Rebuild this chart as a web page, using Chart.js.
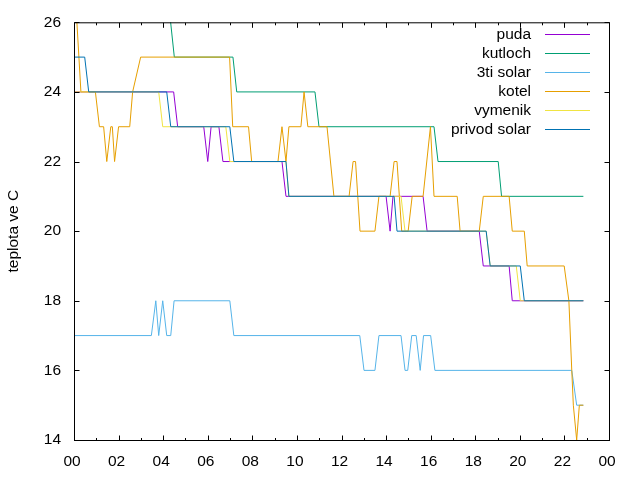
<!DOCTYPE html>
<html>
<head>
<meta charset="utf-8">
<script src="https://cdn.jsdelivr.net/npm/chart.js@4/dist/chart.umd.min.js"></script>
<style>
  html, body { margin: 0; padding: 0; background: #fff; }
  #c { display: block; }
</style>
</head>
<body>
<canvas id="c" width="640" height="480"></canvas>
<script>
// ---- data (time in hours, temperature in °C) ----
const seriesNames = ["puda", "kutloch", "3ti solar", "kotel", "vymenik", "privod solar"];
const seriesColors = ["#9400d3", "#009e73", "#56b4e9", "#e69f00", "#f0e442", "#0072b2"];

const puda = [[0,24],[4.47,24],[4.65,23],[5.82,23],[6.0,22],[6.15,23],[6.5,23],[6.68,22],[9.33,22],[9.51,21],
  [14.0,21],[14.18,20],[14.31,21],[15.66,21],[15.84,20],[18.18,20],[18.36,19],[19.52,19],[19.66,18],[22.85,18]];

const kutloch = [[0,27],[4.17,27],[4.5,25],[7.13,25],[7.3,24],[10.81,24],[10.99,23],[16.15,23],[16.33,22],
  [19.03,22],[19.18,21],[22.85,21]];

const solar3 = [[0,17],[3.47,17],[3.67,18],[3.8,17],[3.98,18],[4.16,17],[4.34,17],[4.49,18],[6.99,18],[7.17,17],
  [12.82,17],[13.01,16],[13.5,16],[13.68,17],[14.67,17],[14.85,16],[14.97,16],[15.15,17],[15.35,17],[15.53,16],
  [15.68,17],[16.0,17],[16.19,16],[22.33,16],[22.55,15],[22.85,15]];

const kotel = [[0.02,26],[0.13,26],[0.31,24],[0.96,24],[1.14,23],[1.33,23],[1.47,22],[1.65,23],[1.72,23],[1.82,22],
  [2.0,23],[2.5,23],[2.63,24],[2.99,25],[6.98,25],[7.12,23],[7.83,23],[7.97,22],[9.15,22],[9.33,23],[9.51,22],
  [9.64,23],[10.18,23],[10.32,24],[10.49,23],[11.35,23],[11.66,21],[12.34,21],[12.52,22],[12.63,22],[12.83,20],
  [13.5,20],[13.68,21],[14.18,21],[14.36,22],[14.49,22],[14.7,20],[14.99,20],[15.17,21],[15.66,21],[15.99,23],
  [16.15,21],[17.19,21],[17.32,20],[18.18,20],[18.36,21],[19.52,21],[19.66,20],[20.2,20],[20.33,19],[21.99,19],
  [22.2,18],[22.33,16],[22.4,15],[22.55,14],[22.67,15],[22.85,15]];

const vymenik = [[0,24],[3.8,24],[3.98,23],[6.81,23],[6.99,22],[9.51,22],[9.64,21],[14.67,21],[14.85,20],
  [18.49,20],[18.67,19],[19.84,19],[20.02,18],[22.85,18]];

const privodSolar = [[0,25],[0.48,25],[0.66,24],[4.16,24],[4.34,23],[6.99,23],[7.17,22],[9.51,22],[9.64,21],
  [14.36,21],[14.49,20],[18.49,20],[18.67,19],[20.02,19],[20.2,18],[22.85,18]];

const xTickLabels = ["00","02","04","06","08","10","12","14","16","18","20","22","00"];
const yTickValues = [14,16,18,20,22,24,26];
const yTitle = "teplota ve C";

// ---- chart ----
const FONT = "'Liberation Sans', Arial, sans-serif";
const FS = 15.5;
const allSeries = [puda, kutloch, solar3, kotel, vymenik, privodSolar];

const datasets = allSeries.map((s, i) => ({
  label: seriesNames[i],
  data: s.map(p => ({x: p[0], y: p[1]})),
  borderColor: seriesColors[i],
  backgroundColor: seriesColors[i],
  borderWidth: 1,
  pointRadius: 0,
  tension: 0,
  fill: false,
  order: allSeries.length - 1 - i
}));

const framePlugin = {
  id: 'frame',
  afterDatasetsDraw(chart) {
    const ctx = chart.ctx;
    const a = chart.chartArea;
    const xs = chart.scales.x, ys = chart.scales.y;
    ctx.save();
    ctx.strokeStyle = '#000';
    ctx.lineWidth = 1;
    ctx.strokeRect(a.left + 0.5, a.top + 0.5, a.right - a.left, a.bottom - a.top);
    ctx.beginPath();
    // x ticks (major every 2h, minor every 1h), inward, mirrored on top
    for (let h = xs.min; h <= xs.max; h += 1) {
      const px = Math.round(xs.getPixelForValue(h)) + 0.5;
      const len = (h % 2 === 0) ? 5 : 2.5;
      ctx.moveTo(px, a.bottom + 0.5); ctx.lineTo(px, a.bottom + 0.5 - len);
      ctx.moveTo(px, a.top + 0.5); ctx.lineTo(px, a.top + 0.5 + len);
    }
    // y ticks, inward, mirrored on right
    yTickValues.forEach(v => {
      const py = Math.round(ys.getPixelForValue(v)) + 0.5;
      ctx.moveTo(a.left + 0.5, py); ctx.lineTo(a.left + 0.5 + 5, py);
      ctx.moveTo(a.right + 0.5, py); ctx.lineTo(a.right + 0.5 - 5, py);
    });
    ctx.stroke();

    // legend (gnuplot style: text right-aligned, sample line to the right)
    ctx.font = FS + 'px ' + FONT;
    ctx.fillStyle = '#000';
    ctx.textAlign = 'right';
    ctx.textBaseline = 'middle';
    const textRight = 531, lineL = 545, lineR = 590, y0 = 33.5, dy = 19;
    seriesNames.forEach((n, i) => {
      const y = y0 + i * dy;
      ctx.fillText(n, textRight, y + 1);
      ctx.beginPath();
      ctx.strokeStyle = seriesColors[i];
      ctx.moveTo(lineL, Math.round(y) + 0.5);
      ctx.lineTo(lineR, Math.round(y) + 0.5);
      ctx.stroke();
    });
    ctx.restore();
  }
};

new Chart(document.getElementById('c'), {
  type: 'line',
  data: { datasets },
  options: {
    responsive: false,
    animation: false,
    devicePixelRatio: 1,
    layout: { padding: { top: 19, right: 31, left: 0, bottom: 0 } },
    plugins: { legend: { display: false }, tooltip: { enabled: false } },
    scales: {
      x: {
        type: 'linear',
        min: 0, max: 24,
        afterFit(s) { s.height = 40; },
        grid: { display: false, drawTicks: false },
        border: { display: false },
        ticks: {
          stepSize: 2,
          autoSkip: false,
          maxRotation: 0,
          padding: 12,
          labelOffset: -2,
          color: '#000',
          font: { family: FONT, size: FS },
          callback: (v, i) => xTickLabels[i]
        }
      },
      y: {
        type: 'linear',
        min: 14, max: 26,
        afterFit(s) { s.width = 74; },
        grid: { display: false, drawTicks: false },
        border: { display: false },
        ticks: {
          stepSize: 2,
          padding: 13,
          color: '#000',
          font: { family: FONT, size: FS },
          callback: (v) => yTickValues.includes(v) ? String(v) : ''
        },
        title: {
          display: true,
          text: yTitle,
          color: '#000',
          font: { family: FONT, size: FS },
          padding: { top: 4, bottom: 4 }
        }
      }
    }
  },
  plugins: [framePlugin]
});
</script>
</body>
</html>
